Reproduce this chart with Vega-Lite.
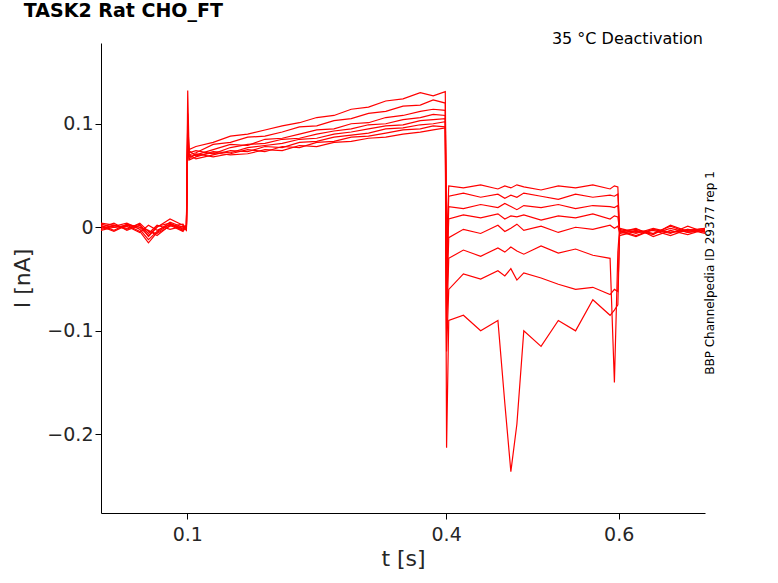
{
  "$schema": "https://vega.github.io/schema/vega-lite/v6.json",
  "width": 604,
  "height": 470,
  "padding": {"left": 101, "top": 43, "right": 73, "bottom": 70},
  "autosize": "none",
  "background": "white",
  "config": {"view": {"stroke": null}, "font": "DejaVu Sans"},
  "title": {"text": "TASK2  Rat  CHO_FT", "anchor": "start", "offset": 10, "fontSize": 19, "fontWeight": "bold", "dx": 12, "color": "black"},
  "data": {"values": [
    {"t": 0.000, "a": 0.002, "b": -0.001, "c": 0.003, "d": 0.000, "e": -0.002, "f": 0.001, "g": 0.004, "h": -0.003},
    {"t": 0.015, "a": -0.003, "b": 0.002, "c": 0.000, "d": 0.004, "e": 0.001, "f": -0.004, "g": 0.002, "h": 0.000},
    {"t": 0.030, "a": 0.003, "b": -0.002, "c": 0.001, "d": -0.003, "e": 0.004, "f": 0.002, "g": -0.001, "h": 0.002},
    {"t": 0.045, "a": 0.000, "b": 0.004, "c": -0.005, "d": 0.002, "e": -0.002, "f": 0.000, "g": 0.003, "h": -0.004},
    {"t": 0.055, "a": -0.008, "b": -0.004, "c": 0.002, "d": -0.006, "e": -0.012, "f": -0.003, "g": -0.009, "h": -0.015},
    {"t": 0.065, "a": 0.001, "b": -0.006, "c": -0.003, "d": 0.002, "e": -0.004, "f": -0.008, "g": 0.000, "h": -0.005},
    {"t": 0.080, "a": 0.004, "b": 0.001, "c": 0.003, "d": -0.002, "e": 0.005, "f": 0.002, "g": 0.008, "h": 0.003},
    {"t": 0.095, "a": -0.002, "b": 0.003, "c": -0.003, "d": 0.001, "e": 0.000, "f": -0.004, "g": 0.002, "h": -0.001},
    {"t": 0.099, "a": 0.001, "b": -0.002, "c": 0.002, "d": 0.000, "e": -0.003, "f": 0.001, "g": -0.001, "h": 0.002},
    {"t": 0.1005, "a": 0.132, "b": 0.11, "c": 0.10, "d": 0.09, "e": 0.085, "f": 0.08, "g": 0.09, "h": 0.10},
    {"t": 0.102, "a": 0.075, "b": 0.07, "c": 0.068, "d": 0.072, "e": 0.065, "f": 0.07, "g": 0.066, "h": 0.074},
    {"t": 0.11, "a": 0.078, "b": 0.072, "c": 0.07, "d": 0.074, "e": 0.068, "f": 0.066, "g": 0.071, "h": 0.069},
    {"t": 0.13, "a": 0.082, "b": 0.08, "c": 0.075, "d": 0.071, "e": 0.073, "f": 0.07, "g": 0.068, "h": 0.072},
    {"t": 0.15, "a": 0.088, "b": 0.082, "c": 0.08, "d": 0.077, "e": 0.072, "f": 0.074, "g": 0.071, "h": 0.07},
    {"t": 0.17, "a": 0.09, "b": 0.087, "c": 0.079, "d": 0.08, "e": 0.077, "f": 0.073, "g": 0.075, "h": 0.071},
    {"t": 0.19, "a": 0.094, "b": 0.088, "c": 0.085, "d": 0.081, "e": 0.079, "f": 0.078, "g": 0.073, "h": 0.075},
    {"t": 0.21, "a": 0.098, "b": 0.092, "c": 0.086, "d": 0.085, "e": 0.081, "f": 0.077, "g": 0.078, "h": 0.074},
    {"t": 0.23, "a": 0.101, "b": 0.097, "c": 0.09, "d": 0.086, "e": 0.085, "f": 0.082, "g": 0.077, "h": 0.079},
    {"t": 0.25, "a": 0.106, "b": 0.098, "c": 0.094, "d": 0.09, "e": 0.086, "f": 0.083, "g": 0.082, "h": 0.078},
    {"t": 0.27, "a": 0.108, "b": 0.103, "c": 0.095, "d": 0.093, "e": 0.09, "f": 0.087, "g": 0.083, "h": 0.082},
    {"t": 0.29, "a": 0.114, "b": 0.105, "c": 0.1, "d": 0.095, "e": 0.092, "f": 0.089, "g": 0.087, "h": 0.083},
    {"t": 0.31, "a": 0.116, "b": 0.11, "c": 0.101, "d": 0.099, "e": 0.095, "f": 0.091, "g": 0.088, "h": 0.086},
    {"t": 0.33, "a": 0.122, "b": 0.112, "c": 0.106, "d": 0.1, "e": 0.098, "f": 0.095, "g": 0.091, "h": 0.087},
    {"t": 0.35, "a": 0.124, "b": 0.117, "c": 0.108, "d": 0.104, "e": 0.099, "f": 0.096, "g": 0.094, "h": 0.09},
    {"t": 0.37, "a": 0.13, "b": 0.118, "c": 0.112, "d": 0.106, "e": 0.103, "f": 0.099, "g": 0.095, "h": 0.092},
    {"t": 0.385, "a": 0.127, "b": 0.123, "c": 0.114, "d": 0.109, "e": 0.104, "f": 0.1, "g": 0.098, "h": 0.094},
    {"t": 0.399, "a": 0.131, "b": 0.12, "c": 0.113, "d": 0.108, "e": 0.105, "f": 0.102, "g": 0.097, "h": 0.096},
    {"t": 0.4005, "a": -0.02, "b": -0.04, "c": -0.06, "d": -0.05, "e": -0.08, "f": -0.1, "g": -0.12, "h": -0.213},
    {"t": 0.403, "a": 0.04, "b": 0.03, "c": 0.02, "d": 0.008, "e": -0.01, "f": -0.03, "g": -0.06, "h": -0.09},
    {"t": 0.42, "a": 0.038, "b": 0.033, "c": 0.018, "d": 0.012, "e": -0.002, "f": -0.022, "g": -0.045, "h": -0.085},
    {"t": 0.44, "a": 0.041, "b": 0.029, "c": 0.022, "d": 0.009, "e": -0.006, "f": -0.028, "g": -0.05, "h": -0.1},
    {"t": 0.46, "a": 0.037, "b": 0.032, "c": 0.019, "d": 0.013, "e": 0.002, "f": -0.02, "g": -0.042, "h": -0.09},
    {"t": 0.468, "a": 0.04, "b": 0.028, "c": 0.023, "d": 0.008, "e": -0.004, "f": -0.024, "g": -0.047, "h": -0.17},
    {"t": 0.475, "a": 0.038, "b": 0.031, "c": 0.02, "d": 0.011, "e": -0.001, "f": -0.019, "g": -0.04, "h": -0.236},
    {"t": 0.482, "a": 0.041, "b": 0.029, "c": 0.017, "d": 0.01, "e": 0.003, "f": -0.023, "g": -0.051, "h": -0.19},
    {"t": 0.49, "a": 0.039, "b": 0.033, "c": 0.021, "d": 0.012, "e": -0.003, "f": -0.026, "g": -0.044, "h": -0.1},
    {"t": 0.51, "a": 0.036, "b": 0.03, "c": 0.019, "d": 0.007, "e": 0.001, "f": -0.018, "g": -0.049, "h": -0.115},
    {"t": 0.53, "a": 0.04, "b": 0.027, "c": 0.022, "d": 0.011, "e": -0.005, "f": -0.025, "g": -0.055, "h": -0.09},
    {"t": 0.55, "a": 0.038, "b": 0.032, "c": 0.018, "d": 0.009, "e": 0.0, "f": -0.021, "g": -0.06, "h": -0.1},
    {"t": 0.57, "a": 0.041, "b": 0.029, "c": 0.021, "d": 0.013, "e": -0.002, "f": -0.027, "g": -0.058, "h": -0.07},
    {"t": 0.59, "a": 0.037, "b": 0.031, "c": 0.02, "d": 0.008, "e": 0.002, "f": -0.03, "g": -0.065, "h": -0.085},
    {"t": 0.595, "a": 0.04, "b": 0.03, "c": 0.019, "d": 0.011, "e": -0.001, "f": -0.15, "g": -0.06, "h": -0.08},
    {"t": 0.599, "a": 0.039, "b": 0.032, "c": 0.021, "d": 0.01, "e": 0.001, "f": -0.024, "g": -0.062, "h": -0.075},
    {"t": 0.601, "a": -0.004, "b": -0.002, "c": -0.006, "d": -0.003, "e": -0.005, "f": -0.001, "g": -0.008, "h": -0.004},
    {"t": 0.62, "a": -0.002, "b": -0.006, "c": -0.003, "d": -0.008, "e": -0.001, "f": -0.005, "g": -0.004, "h": -0.009},
    {"t": 0.64, "a": -0.006, "b": -0.001, "c": -0.007, "d": -0.002, "e": -0.009, "f": -0.003, "g": -0.006, "h": -0.002},
    {"t": 0.66, "a": -0.001, "b": -0.005, "c": 0.002, "d": -0.006, "e": -0.003, "f": -0.008, "g": 0.001, "h": -0.005},
    {"t": 0.68, "a": -0.005, "b": -0.002, "c": -0.004, "d": 0.001, "e": -0.007, "f": -0.002, "g": -0.005, "h": -0.003},
    {"t": 0.70, "a": -0.002, "b": -0.004, "c": -0.001, "d": -0.005, "e": -0.002, "f": -0.006, "g": -0.003, "h": -0.001}
  ]},
  "transform": [{"fold": ["a", "b", "c", "d", "e", "f", "g", "h"], "as": ["trace", "i"]}],
  "layer": [
    {
      "mark": {"type": "line", "color": "#ff0000", "strokeWidth": 1.2, "clip": true},
      "encoding": {
        "x": {"field": "t", "type": "quantitative", "scale": {"domain": [0, 0.7], "nice": false},
          "axis": {"values": [0.1, 0.4, 0.6], "format": ".1f", "title": "t [s]", "titleFontSize": 22, "titleFontWeight": "normal", "labelFontSize": 19, "grid": false, "domainColor": "black", "tickColor": "black", "labelColor": "#262626", "titleColor": "#262626", "tickSize": 6, "labelPadding": 6}},
        "y": {"field": "i", "type": "quantitative", "scale": {"domain": [-0.276, 0.178], "nice": false, "zero": false},
          "axis": {"values": [-0.2, -0.1, 0, 0.1], "format": "~g", "title": "I [nA]", "titleFontSize": 22, "titleFontWeight": "normal", "labelFontSize": 19, "grid": false, "domainColor": "black", "tickColor": "black", "labelColor": "#262626", "titleColor": "#262626", "tickSize": 6, "titlePadding": 12}},
        "detail": {"field": "trace"}
      }
    },
    {
      "data": {"values": [{"t": 0.7, "i": 0.178, "s": "35 °C  Deactivation"}]},
      "mark": {"type": "text", "align": "right", "baseline": "top", "dx": -2, "dy": -12, "fontSize": 16, "color": "black"},
      "encoding": {"x": {"field": "t", "type": "quantitative"}, "y": {"field": "i", "type": "quantitative"}, "text": {"field": "s"}}
    },
    {
      "data": {"values": [{"t": 0.7, "i": -0.05, "s": "BBP Channelpedia ID 29377 rep 1"}]},
      "mark": {"type": "text", "angle": 270, "align": "center", "baseline": "top", "dx": 6, "fontSize": 12, "color": "black"},
      "encoding": {"x": {"field": "t", "type": "quantitative"}, "y": {"field": "i", "type": "quantitative"}, "text": {"field": "s"}}
    }
  ]
}
